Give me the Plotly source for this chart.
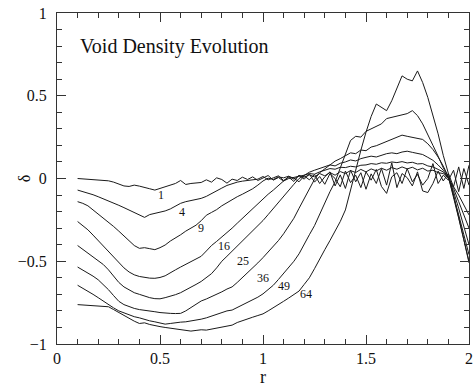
import plotly.graph_objects as go

# radius grid (shared by all curves)
R = [0.100, 0.125, 0.150, 0.175, 0.200, 0.225, 0.250, 0.275, 0.300, 0.325,
     0.350, 0.375, 0.400, 0.425, 0.450, 0.475, 0.500, 0.525, 0.550, 0.575,
     0.600, 0.625, 0.650, 0.675, 0.700, 0.725, 0.750, 0.775, 0.800, 0.825,
     0.850, 0.875, 0.900, 0.925, 0.950, 0.975, 1.000, 1.025, 1.050, 1.075,
     1.100, 1.125, 1.150, 1.175, 1.200, 1.225, 1.250, 1.275, 1.300, 1.325,
     1.350, 1.375, 1.400, 1.425, 1.450, 1.475, 1.500, 1.525, 1.550, 1.575,
     1.600, 1.625, 1.650, 1.675, 1.700, 1.725, 1.750, 1.775, 1.800, 1.825,
     1.850, 1.875, 1.900, 1.925, 1.950, 1.975, 2.000]

C1 = [0.000, -0.002, -0.004, -0.006, -0.008, -0.010, -0.014, -0.022, -0.032, -0.045,
      -0.048, -0.040, -0.046, -0.056, -0.062, -0.070, -0.060, -0.052, -0.044, -0.030,
      -0.012, -0.036, -0.030, -0.028, -0.024, -0.008, -0.022, 0.004, -0.006, -0.028,
      -0.004, -0.012, 0.008, -0.006, 0.010, -0.012, 0.004, 0.018, -0.010, 0.006,
      -0.016, 0.012, 0.002, -0.020, 0.016, -0.008, 0.024, -0.030, 0.010, 0.040,
      -0.045, 0.022, -0.060, 0.050, -0.020, 0.035, -0.065, 0.028, -0.030, 0.060,
      -0.040, 0.095, -0.055, 0.030, 0.005, -0.045, 0.040, -0.075, -0.085, -0.030,
      0.045, -0.015, 0.030, -0.050, 0.070, -0.060, 0.080]

C4 = [-0.070, -0.078, -0.088, -0.098, -0.110, -0.122, -0.135, -0.148, -0.162, -0.176,
      -0.190, -0.204, -0.218, -0.235, -0.218, -0.212, -0.205, -0.196, -0.184, -0.168,
      -0.150, -0.140, -0.134, -0.128, -0.120, -0.108, -0.090, -0.075, -0.058, -0.042,
      -0.030, -0.022, -0.016, -0.012, -0.010, -0.004, 0.012, -0.008, 0.004, 0.016,
      -0.012, 0.008, -0.018, 0.020, -0.004, 0.028, -0.022, 0.012, -0.035, 0.030,
      0.000, -0.050, 0.045, -0.025, 0.020, -0.055, 0.040, -0.010, 0.055, -0.048,
      -0.090, 0.010, 0.035, -0.030, 0.060, -0.020, 0.025, -0.040, 0.000, 0.090,
      -0.030, 0.020, -0.010, 0.050, -0.080, 0.060, -0.040]

C9 = [-0.140, -0.150, -0.165, -0.190, -0.215, -0.235, -0.260, -0.290, -0.318, -0.345,
      -0.372, -0.405, -0.422, -0.418, -0.424, -0.430, -0.418, -0.402, -0.378, -0.360,
      -0.340, -0.318, -0.300, -0.282, -0.255, -0.222, -0.205, -0.188, -0.165, -0.145,
      -0.130, -0.110, -0.095, -0.080, -0.062, -0.040, -0.015, 0.002, -0.006, 0.010,
      0.004, 0.014, -0.004, 0.018, 0.008, 0.022, 0.010, 0.030, 0.016, 0.036,
      0.020, 0.042, 0.030, 0.048, 0.036, 0.055, 0.040, 0.058, 0.046, 0.062,
      0.050, 0.066, 0.056, 0.070, 0.058, 0.068, 0.052, 0.062, 0.045, 0.050,
      0.035, 0.030, 0.000, -0.050, -0.100, -0.160, -0.220]

C16 = [-0.260, -0.285, -0.310, -0.342, -0.375, -0.405, -0.440, -0.475, -0.510, -0.540,
       -0.565, -0.582, -0.592, -0.598, -0.602, -0.603, -0.598, -0.588, -0.572, -0.552,
       -0.535, -0.518, -0.500, -0.485, -0.470, -0.438, -0.405, -0.380, -0.355, -0.330,
       -0.300, -0.270, -0.240, -0.212, -0.180, -0.150, -0.120, -0.095, -0.070, -0.040,
       -0.015, 0.000, 0.006, 0.012, 0.020, 0.030, 0.026, 0.040, 0.048, 0.060,
       0.056, 0.068, 0.066, 0.074, 0.070, 0.080, 0.082, 0.090, 0.086, 0.095,
       0.092, 0.100, 0.096, 0.102, 0.094, 0.098, 0.088, 0.090, 0.076, 0.070,
       0.055, 0.040, 0.005, -0.060, -0.140, -0.220, -0.300]

C25 = [-0.405, -0.428, -0.450, -0.470, -0.492, -0.520, -0.552, -0.590, -0.628, -0.655,
       -0.675, -0.690, -0.700, -0.712, -0.720, -0.726, -0.727, -0.720, -0.712, -0.702,
       -0.690, -0.675, -0.657, -0.640, -0.622, -0.600, -0.575, -0.540, -0.500, -0.470,
       -0.440, -0.410, -0.380, -0.348, -0.315, -0.285, -0.254, -0.218, -0.180, -0.145,
       -0.110, -0.072, -0.035, 0.000, 0.020, 0.038, 0.050, 0.060, 0.070, 0.082,
       0.076, 0.092, 0.100, 0.112, 0.106, 0.120, 0.128, 0.135, 0.130, 0.142,
       0.150, 0.155, 0.150, 0.160, 0.165, 0.158, 0.150, 0.145, 0.128, 0.110,
       0.082, 0.050, 0.005, -0.080, -0.180, -0.290, -0.400]

C36 = [-0.535, -0.552, -0.570, -0.590, -0.612, -0.640, -0.672, -0.708, -0.742, -0.762,
       -0.775, -0.785, -0.792, -0.795, -0.800, -0.805, -0.810, -0.814, -0.815, -0.816,
       -0.815, -0.800, -0.780, -0.765, -0.740, -0.728, -0.715, -0.700, -0.685, -0.668,
       -0.655, -0.628, -0.600, -0.570, -0.540, -0.510, -0.478, -0.445, -0.410, -0.375,
       -0.334, -0.290, -0.240, -0.180, -0.120, -0.060, -0.005, 0.035, 0.060, 0.085,
       0.105, 0.120, 0.135, 0.155, 0.150, 0.172, 0.168, 0.190, 0.198, 0.210,
       0.222, 0.238, 0.248, 0.262, 0.255, 0.250, 0.244, 0.236, 0.210, 0.175,
       0.130, 0.075, 0.010, -0.100, -0.220, -0.340, -0.460]

C49 = [-0.645, -0.662, -0.680, -0.700, -0.720, -0.742, -0.762, -0.782, -0.800, -0.812,
       -0.825, -0.835, -0.842, -0.852, -0.860, -0.866, -0.872, -0.880, -0.876, -0.870,
       -0.868, -0.866, -0.862, -0.858, -0.850, -0.842, -0.832, -0.822, -0.810, -0.800,
       -0.795, -0.780, -0.765, -0.750, -0.735, -0.717, -0.697, -0.670, -0.645, -0.610,
       -0.575, -0.540, -0.500, -0.455, -0.395, -0.340, -0.285, -0.215, -0.145, -0.080,
       -0.020, 0.060, 0.150, 0.230, 0.255, 0.250, 0.285, 0.300, 0.315, 0.330,
       0.362, 0.370, 0.380, 0.385, 0.392, 0.410, 0.380, 0.330, 0.260, 0.200,
       0.135, 0.065, 0.010, -0.110, -0.240, -0.370, -0.500]

C64 = [-0.762, -0.764, -0.765, -0.766, -0.768, -0.770, -0.775, -0.792, -0.810, -0.828,
       -0.845, -0.862, -0.876, -0.872, -0.882, -0.890, -0.895, -0.900, -0.905, -0.908,
       -0.914, -0.918, -0.922, -0.918, -0.914, -0.916, -0.910, -0.904, -0.898, -0.892,
       -0.886, -0.870, -0.858, -0.848, -0.838, -0.828, -0.818, -0.800, -0.782, -0.760,
       -0.742, -0.722, -0.700, -0.680, -0.640, -0.600, -0.545, -0.485, -0.430, -0.375,
       -0.320, -0.260, -0.190, -0.070, 0.060, 0.170, 0.280, 0.375, 0.450, 0.430,
       0.410, 0.470, 0.540, 0.620, 0.600, 0.590, 0.650, 0.580, 0.490, 0.380,
       0.270, 0.140, 0.030, -0.100, -0.230, -0.370, -0.510]

SERIES = [C1, C4, C9, C16, C25, C36, C49, C64]
LABELS = ["1", "4", "9", "16", "25", "36", "49", "64"]
LABEL_X = [0.505, 0.605, 0.700, 0.810, 0.905, 1.000, 1.100, 1.210]
LABEL_Y = [-0.100, -0.200, -0.300, -0.405, -0.500, -0.600, -0.650, -0.700]

SERIF = "Liberation Serif, DejaVu Serif, serif"
INK = "#111111"

fig = go.Figure()
for name, ys in zip(LABELS, SERIES):
    fig.add_trace(go.Scatter(x=R, y=ys, mode="lines", name=name,
                             line=dict(color="#1a1a1a", width=1),
                             showlegend=False, hoverinfo="skip"))

for t, lx, ly in zip(LABELS, LABEL_X, LABEL_Y):
    fig.add_annotation(x=lx, y=ly, text=t, showarrow=False,
                       font=dict(family=SERIF, size=12, color=INK))

fig.add_annotation(x=0.1, y=0.80, text="Void Density Evolution", showarrow=False,
                   xanchor="left", yanchor="middle",
                   font=dict(family=SERIF, size=20, color=INK))

# axis titles
fig.add_annotation(xref="paper", x=-0.104, yref="y", y=0.0, text="δ",
                   showarrow=False, textangle=-90,
                   font=dict(family=SERIF, size=16, color=INK))
fig.add_annotation(xref="x", x=1.0, yref="paper", y=-0.100, text="r",
                   showarrow=False, yanchor="middle",
                   font=dict(family=SERIF, size=18, color=INK))

axis_common = dict(showline=True, linecolor="#333", linewidth=1, mirror="ticks",
                   ticks="inside", ticklen=9, tickcolor="#333", tickwidth=1,
                   showgrid=False, zeroline=False, automargin=False,
                   tickfont=dict(family=SERIF, size=16, color=INK))

fig.update_xaxes(range=[0, 2], tick0=0, dtick=0.5,
                 minor=dict(dtick=0.1, ticks="inside", ticklen=5, tickcolor="#333"),
                 **axis_common)
fig.update_yaxes(range=[-1, 1], tick0=0, dtick=0.5,
                 minor=dict(dtick=0.1, ticks="inside", ticklen=5, tickcolor="#333"),
                 ticklabelstandoff=6,
                 **axis_common)

fig.update_layout(width=475, height=388,
                  margin=dict(l=57, r=6, t=13, b=44),
                  paper_bgcolor="white", plot_bgcolor="white")

fig.write_html("out.html", config={"displayModeBar": False},
               post_script="document.body.style.margin='0';document.body.style.overflow='hidden';")
